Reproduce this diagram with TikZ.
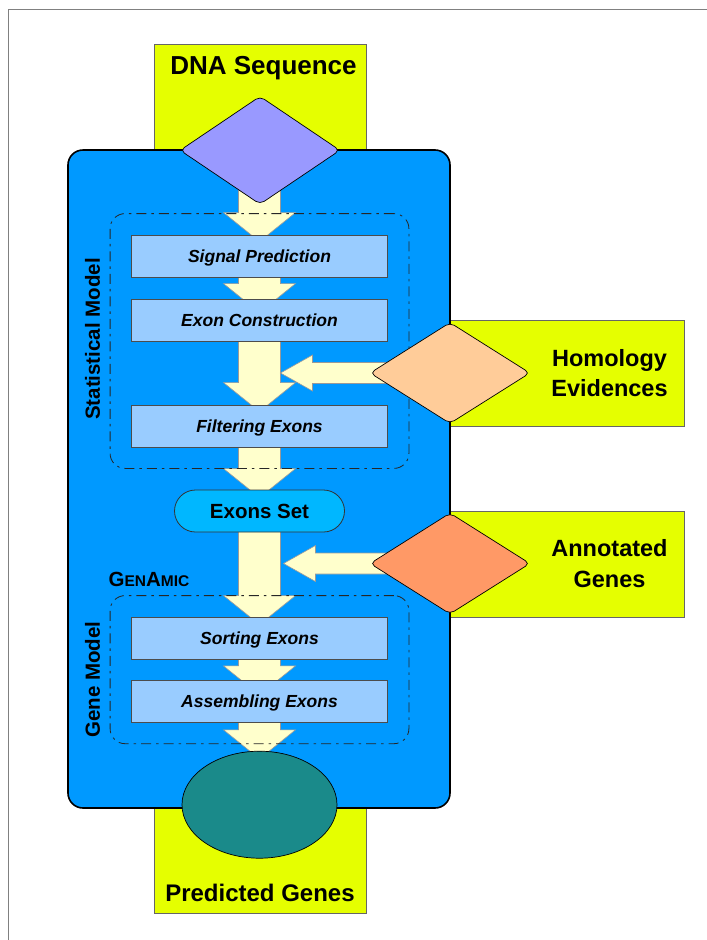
\documentclass[tikz,border=0pt]{standalone}
\usepackage{fontspec}
\setsansfont{Liberation Sans}
\usepackage{tikz}
\tikzset{every picture/.style={/utils/exec={\sffamily}}}
\usetikzlibrary{calc, fit, shapes.geometric}
\definecolor{DNA_yellow}{RGB}{229,255,0}
\definecolor{engine_blue}{RGB}{0,153,255}
\definecolor{step_blue}{RGB}{153,204,255}
\definecolor{set_blue}{RGB}{0,183,255}
\definecolor{DNA_violet}{RGB}{153,153,255}
\definecolor{hom_orange}{RGB}{255,204,153}
\definecolor{ann_orange}{RGB}{255,153,102}
\definecolor{gene_teal}{RGB}{26,138,138}
\definecolor{flow_cream}{RGB}{255,255,204}
\pgfdeclarelayer{back}
\pgfdeclarelayer{flow}
\pgfdeclarelayer{group}
\pgfsetlayers{back,flow,group,main}
\tikzset{
  yellowbox/.style={draw=black!60, fill=DNA_yellow, inner sep=0pt},
  engine/.style={draw=black, line width=1.6pt, fill=engine_blue, rounded corners=15pt, inner sep=0pt},
  stepbox/.style={draw=black!70, line width=0.8pt, fill=step_blue, minimum width=256pt, minimum height=42pt,
    inner sep=0pt, text depth=0pt, font=\fontsize{17.5}{21}\selectfont\bfseries\itshape},
  setbox/.style={draw=black!80, line width=0.8pt, fill=set_blue, rounded corners=21pt, minimum width=170pt,
    minimum height=42pt, inner sep=0pt, text depth=0pt, font=\fontsize{20.5}{24}\selectfont\bfseries},
  datadiamond/.style={diamond, draw=black, line width=0.7pt, rounded corners=5pt, inner sep=0pt, minimum width=160pt},
  groupbox/.style={draw=black!85, line width=0.8pt, rounded corners=15pt, dash pattern=on 10pt off 5pt on 2.5pt off 5pt, inner sep=21pt},
  grouplabel/.style={rotate=90, anchor=south, inner sep=0pt, font=\fontsize{20.5}{24}\selectfont\bfseries},
  bigtitle/.style={inner sep=0pt, font=\fontsize{26}{30}\selectfont\bfseries},
  sidetitle/.style={inner sep=0pt, align=center, font=\fontsize{23.5}{30.5}\selectfont\bfseries},
  flowarrow/.style={draw=black!40, line width=0.6pt, fill=flow_cream}
}
% block arrow downwards: from, to, depth of the tip under to.north
\newcommand{\flowdown}[3]{%
  \draw[flowarrow] let \p1=(#1.center), \p2=([yshift=-#3pt]#2.north) in
    (\x2-21pt,\y1) -- (\x2-21pt,\y2+29pt) -- (\x2-36pt,\y2+29pt) -- (\x2,\y2)
    -- (\x2+36pt,\y2+29pt) -- (\x2+21pt,\y2+29pt) -- (\x2+21pt,\y1) -- cycle;}
% block arrow to the left: from, node on the main shaft, gap
\newcommand{\flowleft}[3]{%
  \draw[flowarrow] let \p1=(#1.center), \p2=(#1.center -| #2.south) in
    (\x1,\y1+10.5pt) -- (\x2+#3pt+32pt,\y1+10.5pt) -- (\x2+#3pt+32pt,\y1+18pt) -- (\x2+#3pt,\y1)
    -- (\x2+#3pt+32pt,\y1-18pt) -- (\x2+#3pt+32pt,\y1-10.5pt) -- (\x1,\y1-10.5pt) -- cycle;}

\begin{document}
\begin{tikzpicture}[x=1pt, y=-1pt]
  \useasboundingbox (0,0) rectangle (707,940);
  \draw[black!50, line width=1pt] (8,940) -- (8,9.5) -- (707,9.5);

  % inputs, outputs and the engine
  \begin{pgfonlayer}{back}
    \node[yellowbox, minimum width=212pt, minimum height=126pt] (dnarect) at (260,107) {};
    \node[yellowbox, minimum width=212pt, minimum height=123pt] (predrect) at (260,851.5) {};
    \node[yellowbox, minimum width=234pt, minimum height=106pt] (homrect) at (567,373) {};
    \node[yellowbox, minimum width=234pt, minimum height=106pt] (annrect) at (567,563.7) {};
    \node[engine, minimum width=382pt, minimum height=658pt] (engine) at (259,479) {};
  \end{pgfonlayer}
  \node[bigtitle, anchor=base] (dnatext) at ([xshift=3.5pt,yshift=-31pt]dnarect.north) {DNA Sequence};
  \node[bigtitle, font=\fontsize{24}{28}\selectfont\bfseries, anchor=base] (predtext) at ([yshift=11.3pt]predrect.south) {Predicted Genes};
  \node[sidetitle] (homtext) at ([xshift=42.5pt]homrect.center) {Homology\\Evidences};
  \node[sidetitle] (anntext) at ([xshift=42.5pt]annrect.center) {Annotated\\Genes};

  % steps
  \node[datadiamond, fill=DNA_violet, minimum height=108pt] (dna) at (260,150.3) {};
  \node[stepbox] (sig) at (259.5,256) {Signal Prediction};
  \node[stepbox] (exc) at (259.5,320) {Exon Construction};
  \node[stepbox] (fil) at (259.5,426) {Filtering Exons};
  \node[datadiamond, fill=hom_orange, minimum height=101pt] (hom) at (450,373) {};
  \node[setbox] (set) at (259.5,511) {Exons Set};
  \node[datadiamond, fill=ann_orange, minimum height=101pt] (ann) at (450,563.5) {};
  \node[stepbox] (sort) at (259.5,638) {Sorting Exons};
  \node[stepbox] (asm) at (259.5,701.3) {Assembling Exons};
  \node[ellipse, draw=black, line width=0.7pt, fill=gene_teal, minimum width=155pt, minimum height=107pt, inner sep=0pt] (pred) at (259.5,804.7) {};

  % models
  \begin{pgfonlayer}{group}
    \node[groupbox, fit=(sig)(fil)] (stat) {};
    \node[groupbox, fit=(sort)(asm)] (gene) {};
  \end{pgfonlayer}
  \node[grouplabel] (statlbl) at ([xshift=-9.5pt,yshift=2pt]stat.west) {Statistical Model};
  \node[grouplabel] (genelbl) at ([xshift=-9.5pt,yshift=-10pt]gene.west) {Gene Model};
  \node[anchor=base west, inner sep=0pt, font=\bfseries] (genamic) at ([xshift=-1.3pt,yshift=8.7pt]gene.north west)
    {{\fontsize{20.5}{24}\selectfont G}{\fontsize{15.5}{18}\selectfont EN}{\fontsize{20.5}{24}\selectfont A}{\fontsize{15.5}{18}\selectfont MIC}};

  % flow
  \begin{pgfonlayer}{flow}
    \flowdown{dna}{sig}{7}
    \flowdown{sig}{exc}{14}
    \flowdown{exc}{fil}{7}
    \flowdown{fil}{set}{8}
    \flowdown{set}{sort}{8}
    \flowdown{sort}{asm}{15}
    \flowdown{asm}{pred}{8}
    \flowleft{hom}{exc}{21}
    \flowleft{ann}{set}{24}
  \end{pgfonlayer}
\end{tikzpicture}
\end{document}
